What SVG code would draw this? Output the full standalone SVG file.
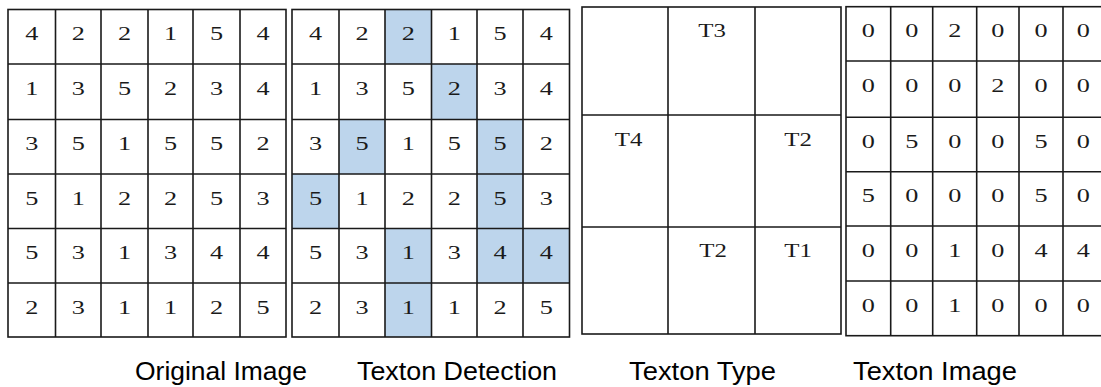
<svg xmlns="http://www.w3.org/2000/svg" width="1101" height="387" viewBox="0 0 1101 387">
<style>
.ln{stroke:#1a1a1a;stroke-width:1.6;fill:none}
.hl{fill:#bdd5ec}
.d{font-family:"Liberation Serif","Times New Roman",serif;font-size:19px;fill:#1a1a1a;text-anchor:middle}
.t{font-family:"Liberation Serif","Times New Roman",serif;font-size:18px;fill:#1a1a1a;text-anchor:middle}
.cap{font-family:"Liberation Sans",Arial,sans-serif;font-size:25px;fill:#000}
</style>
<rect width="1101" height="387" fill="#fff"/>

<g id="original-image">
<rect class="ln" x="8" y="9.5" width="278" height="327.5"/>
<path class="ln" d="M55.5 9.5V337M101 9.5V337M148 9.5V337M193 9.5V337M240 9.5V337M8 64H286M8 119.5H286M8 174H286M8 228.5H286M8 283H286"/>
<g class="d">
<text transform="translate(31.75,40.2) scale(1.38,1)">4</text><text transform="translate(78.25,40.2) scale(1.38,1)">2</text><text transform="translate(124.5,40.2) scale(1.38,1)">2</text><text transform="translate(170.5,40.2) scale(1.38,1)">1</text><text transform="translate(216.5,40.2) scale(1.38,1)">5</text><text transform="translate(263,40.2) scale(1.38,1)">4</text>
<text transform="translate(31.75,94.7) scale(1.38,1)">1</text><text transform="translate(78.25,94.7) scale(1.38,1)">3</text><text transform="translate(124.5,94.7) scale(1.38,1)">5</text><text transform="translate(170.5,94.7) scale(1.38,1)">2</text><text transform="translate(216.5,94.7) scale(1.38,1)">3</text><text transform="translate(263,94.7) scale(1.38,1)">4</text>
<text transform="translate(31.75,150.2) scale(1.38,1)">3</text><text transform="translate(78.25,150.2) scale(1.38,1)">5</text><text transform="translate(124.5,150.2) scale(1.38,1)">1</text><text transform="translate(170.5,150.2) scale(1.38,1)">5</text><text transform="translate(216.5,150.2) scale(1.38,1)">5</text><text transform="translate(263,150.2) scale(1.38,1)">2</text>
<text transform="translate(31.75,204.7) scale(1.38,1)">5</text><text transform="translate(78.25,204.7) scale(1.38,1)">1</text><text transform="translate(124.5,204.7) scale(1.38,1)">2</text><text transform="translate(170.5,204.7) scale(1.38,1)">2</text><text transform="translate(216.5,204.7) scale(1.38,1)">5</text><text transform="translate(263,204.7) scale(1.38,1)">3</text>
<text transform="translate(31.75,259.2) scale(1.38,1)">5</text><text transform="translate(78.25,259.2) scale(1.38,1)">3</text><text transform="translate(124.5,259.2) scale(1.38,1)">1</text><text transform="translate(170.5,259.2) scale(1.38,1)">3</text><text transform="translate(216.5,259.2) scale(1.38,1)">4</text><text transform="translate(263,259.2) scale(1.38,1)">4</text>
<text transform="translate(31.75,313.7) scale(1.38,1)">2</text><text transform="translate(78.25,313.7) scale(1.38,1)">3</text><text transform="translate(124.5,313.7) scale(1.38,1)">1</text><text transform="translate(170.5,313.7) scale(1.38,1)">1</text><text transform="translate(216.5,313.7) scale(1.38,1)">2</text><text transform="translate(263,313.7) scale(1.38,1)">5</text>
</g>
</g>

<g id="texton-detection">
<g class="hl">
<rect x="385" y="9.5" width="46.5" height="54.5"/>
<rect x="431.5" y="64" width="45.5" height="55.5"/>
<rect x="339" y="119.5" width="46" height="54.5"/>
<rect x="477" y="119.5" width="46" height="54.5"/>
<rect x="292" y="174" width="47" height="54.5"/>
<rect x="477" y="174" width="46" height="54.5"/>
<rect x="385" y="228.5" width="46.5" height="54.5"/>
<rect x="477" y="228.5" width="46" height="54.5"/>
<rect x="523" y="228.5" width="46.5" height="54.5"/>
<rect x="385" y="283" width="46.5" height="54"/>
</g>
<rect class="ln" x="292" y="9.5" width="277.5" height="327.5"/>
<path class="ln" d="M339 9.5V337M385 9.5V337M431.5 9.5V337M477 9.5V337M523 9.5V337M292 64H569.5M292 119.5H569.5M292 174H569.5M292 228.5H569.5M292 283H569.5"/>
<g class="d">
<text transform="translate(315.5,40.2) scale(1.38,1)">4</text><text transform="translate(362,40.2) scale(1.38,1)">2</text><text transform="translate(408.25,40.2) scale(1.38,1)">2</text><text transform="translate(454.25,40.2) scale(1.38,1)">1</text><text transform="translate(500,40.2) scale(1.38,1)">5</text><text transform="translate(546.25,40.2) scale(1.38,1)">4</text>
<text transform="translate(315.5,94.7) scale(1.38,1)">1</text><text transform="translate(362,94.7) scale(1.38,1)">3</text><text transform="translate(408.25,94.7) scale(1.38,1)">5</text><text transform="translate(454.25,94.7) scale(1.38,1)">2</text><text transform="translate(500,94.7) scale(1.38,1)">3</text><text transform="translate(546.25,94.7) scale(1.38,1)">4</text>
<text transform="translate(315.5,150.2) scale(1.38,1)">3</text><text transform="translate(362,150.2) scale(1.38,1)">5</text><text transform="translate(408.25,150.2) scale(1.38,1)">1</text><text transform="translate(454.25,150.2) scale(1.38,1)">5</text><text transform="translate(500,150.2) scale(1.38,1)">5</text><text transform="translate(546.25,150.2) scale(1.38,1)">2</text>
<text transform="translate(315.5,204.7) scale(1.38,1)">5</text><text transform="translate(362,204.7) scale(1.38,1)">1</text><text transform="translate(408.25,204.7) scale(1.38,1)">2</text><text transform="translate(454.25,204.7) scale(1.38,1)">2</text><text transform="translate(500,204.7) scale(1.38,1)">5</text><text transform="translate(546.25,204.7) scale(1.38,1)">3</text>
<text transform="translate(315.5,259.2) scale(1.38,1)">5</text><text transform="translate(362,259.2) scale(1.38,1)">3</text><text transform="translate(408.25,259.2) scale(1.38,1)">1</text><text transform="translate(454.25,259.2) scale(1.38,1)">3</text><text transform="translate(500,259.2) scale(1.38,1)">4</text><text transform="translate(546.25,259.2) scale(1.38,1)">4</text>
<text transform="translate(315.5,313.7) scale(1.38,1)">2</text><text transform="translate(362,313.7) scale(1.38,1)">3</text><text transform="translate(408.25,313.7) scale(1.38,1)">1</text><text transform="translate(454.25,313.7) scale(1.38,1)">1</text><text transform="translate(500,313.7) scale(1.38,1)">2</text><text transform="translate(546.25,313.7) scale(1.38,1)">5</text>
</g>
</g>

<g id="texton-type">
<rect class="ln" x="582" y="7" width="259" height="327"/>
<path class="ln" d="M668 7V334M755 7V334M582 115H841M582 227H841"/>
<g class="t">
<text transform="translate(712,36.7) scale(1.38,1)">T3</text>
<text transform="translate(628.5,145.7) scale(1.38,1)">T4</text>
<text transform="translate(798,145.7) scale(1.38,1)">T2</text>
<text transform="translate(713,257.3) scale(1.38,1)">T2</text>
<text transform="translate(798,257.3) scale(1.38,1)">T1</text>
</g>
</g>

<g id="texton-image">
<rect class="ln" x="846" y="6.7" width="258" height="329"/>
<path class="ln" d="M890.7 6.7V335.7M932.7 6.7V335.7M976.7 6.7V335.7M1019 6.7V335.7M1063 6.7V335.7M846 61H1104M846 117.3H1104M846 171.7H1104M846 226H1104M846 281H1104"/>
<g class="d">
<text transform="translate(868.35,37.3) scale(1.38,1)">0</text><text transform="translate(911.7,37.3) scale(1.38,1)">0</text><text transform="translate(954.7,37.3) scale(1.38,1)">2</text><text transform="translate(997.85,37.3) scale(1.38,1)">0</text><text transform="translate(1041,37.3) scale(1.38,1)">0</text><text transform="translate(1083.3,37.3) scale(1.38,1)">0</text>
<text transform="translate(868.35,91.6) scale(1.38,1)">0</text><text transform="translate(911.7,91.6) scale(1.38,1)">0</text><text transform="translate(954.7,91.6) scale(1.38,1)">0</text><text transform="translate(997.85,91.6) scale(1.38,1)">2</text><text transform="translate(1041,91.6) scale(1.38,1)">0</text><text transform="translate(1083.3,91.6) scale(1.38,1)">0</text>
<text transform="translate(868.35,147.9) scale(1.38,1)">0</text><text transform="translate(911.7,147.9) scale(1.38,1)">5</text><text transform="translate(954.7,147.9) scale(1.38,1)">0</text><text transform="translate(997.85,147.9) scale(1.38,1)">0</text><text transform="translate(1041,147.9) scale(1.38,1)">5</text><text transform="translate(1083.3,147.9) scale(1.38,1)">0</text>
<text transform="translate(868.35,202.3) scale(1.38,1)">5</text><text transform="translate(911.7,202.3) scale(1.38,1)">0</text><text transform="translate(954.7,202.3) scale(1.38,1)">0</text><text transform="translate(997.85,202.3) scale(1.38,1)">0</text><text transform="translate(1041,202.3) scale(1.38,1)">5</text><text transform="translate(1083.3,202.3) scale(1.38,1)">0</text>
<text transform="translate(868.35,256.6) scale(1.38,1)">0</text><text transform="translate(911.7,256.6) scale(1.38,1)">0</text><text transform="translate(954.7,256.6) scale(1.38,1)">1</text><text transform="translate(997.85,256.6) scale(1.38,1)">0</text><text transform="translate(1041,256.6) scale(1.38,1)">4</text><text transform="translate(1083.3,256.6) scale(1.38,1)">4</text>
<text transform="translate(868.35,311.6) scale(1.38,1)">0</text><text transform="translate(911.7,311.6) scale(1.38,1)">0</text><text transform="translate(954.7,311.6) scale(1.38,1)">1</text><text transform="translate(997.85,311.6) scale(1.38,1)">0</text><text transform="translate(1041,311.6) scale(1.38,1)">0</text><text transform="translate(1083.3,311.6) scale(1.38,1)">0</text>
</g>
</g>

<g id="captions" class="cap">
<text x="135" y="380" textLength="172" lengthAdjust="spacingAndGlyphs">Original Image</text>
<text x="357" y="380" textLength="200" lengthAdjust="spacingAndGlyphs">Texton Detection</text>
<text x="629" y="380" textLength="147" lengthAdjust="spacingAndGlyphs">Texton Type</text>
<text x="853" y="380" textLength="164" lengthAdjust="spacingAndGlyphs">Texton Image</text>
</g>
</svg>
